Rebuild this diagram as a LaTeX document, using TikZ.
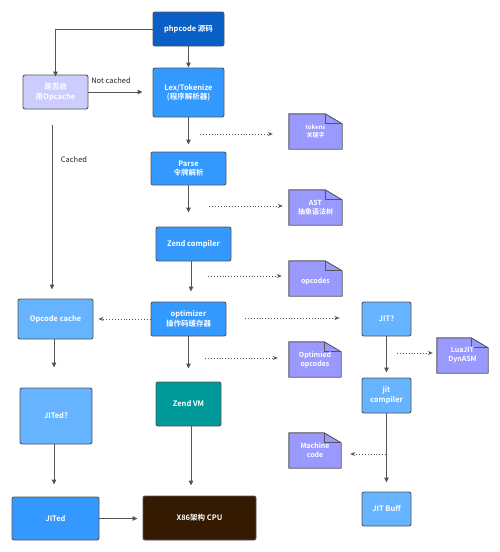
\documentclass[tikz,border=0pt]{standalone}
\usepackage{fontspec}
\setmainfont{Noto Sans CJK SC}[BoldFont={Noto Sans CJK SC Bold}]
\usetikzlibrary{arrows.meta}
\definecolor{edge}{HTML}{555555}
\definecolor{cdark}{HTML}{0A5FC6}
\definecolor{cmid}{HTML}{3399FF}
\definecolor{clight}{HTML}{66B3FF}
\definecolor{clav}{HTML}{CCCCFF}
\definecolor{cnote}{HTML}{9999FF}
\definecolor{cteal}{HTML}{009999}
\definecolor{cbrown}{HTML}{331A00}
\tikzset{
  box/.style={draw=edge, line width=0.9pt, rounded corners=2pt, text=white, align=center, font=\fontsize{7.5}{9.5}\selectfont\bfseries, inner sep=1pt},
  notebox/.style={align=center, text=white, font=\fontsize{7}{9}\selectfont\bfseries, inner sep=1pt},
  arr/.style={draw=edge, line width=0.9pt, -{Triangle[length=5pt,width=4.5pt]}},
  darr/.style={draw=edge, line width=0.9pt, dotted, -{Stealth[length=5pt,width=4pt]}},
  lbl/.style={font=\fontsize{7.5}{9}\selectfont, text=black!85, inner sep=0pt}
}
\newcommand{\drawnote}[1]{%
  \filldraw[fill=cnote, draw=edge, line width=0.9pt, line join=round]
    (#1.south west) -- (#1.north west) -- ([xshift=-17pt]#1.north east)
    -- ([yshift=-10pt]#1.north east) -- (#1.south east) -- cycle;
  \draw[draw=edge, line width=0.7pt, line join=round]
    ([xshift=-17pt]#1.north east) -- ([xshift=-17pt,yshift=-10pt]#1.north east) -- ([yshift=-10pt]#1.north east);
}
\begin{document}
\begin{tikzpicture}[x=1pt,y=-1pt]
\fill[white] (0,0) rectangle (500,552);
\useasboundingbox (0,0) rectangle (500,552);
% main boxes
\node[box, fill=cdark, minimum width=71pt, minimum height=34pt] (php) at (188.5,29) {phpcode 源码};
\node[box, fill=cmid, minimum width=71pt, minimum height=49pt] (lex) at (188.5,92.5) {Lex/Tokenize\\(程序解析器)};
\node[box, fill=clav, minimum width=65pt, minimum height=34pt] (opc) at (55.5,92) {是否启\\用Opcache};
\node[box, fill=cmid, minimum width=75pt, minimum height=33pt] (parse) at (188.5,168.5) {Parse\\令牌解析};
\node[box, fill=cmid, minimum width=75pt, minimum height=34pt] (zc) at (193.5,244) {Zend compiler};
\node[box, fill=cmid, minimum width=75pt, minimum height=34pt] (opt) at (188.5,319) {optimizer\\操作码缓存器};
\node[box, fill=clight, minimum width=75pt, minimum height=40pt] (ocache) at (55.5,319) {Opcode cache};
\node[box, fill=clight, minimum width=72pt, minimum height=56pt] (jitedq) at (56,416) {JITed?};
\node[box, fill=cmid, minimum width=87pt, minimum height=43pt] (jited) at (55.5,518.5) {JITed};
\node[box, fill=cbrown, minimum width=113pt, minimum height=44pt] (cpu) at (199.5,518) {X86架构 CPU};
\node[box, fill=cteal, minimum width=65pt, minimum height=44pt] (zvm) at (188.5,404) {Zend VM};
\node[box, fill=clight, minimum width=49pt, minimum height=34pt] (jitq) at (386.5,319) {JIT?};
\node[box, fill=clight, minimum width=49pt, minimum height=35pt] (jitc) at (386.5,395.5) {jit\\compiler};
\node[box, fill=clight, minimum width=49pt, minimum height=34pt] (jitbuff) at (386.5,509) {JIT Buff};
% notes
\node[notebox, minimum width=53pt, minimum height=35pt] (tokens) at (315.5,131.5) {};
\node[notebox, minimum width=53pt, minimum height=35pt] (ast) at (315.5,207.5) {};
\node[notebox, minimum width=53pt, minimum height=35pt] (opcodes) at (315.5,278.5) {};
\node[notebox, minimum width=52pt, minimum height=35pt] (optimied) at (315,359.5) {};
\node[notebox, minimum width=51pt, minimum height=35pt] (luajit) at (462.5,355.5) {};
\node[notebox, minimum width=52pt, minimum height=35pt] (machine) at (315,450.5) {};
\drawnote{tokens}\drawnote{ast}\drawnote{opcodes}\drawnote{optimied}\drawnote{luajit}\drawnote{machine}
\node[notebox, font=\fontsize{6}{8}\selectfont\bfseries] at (tokens) {tokens\\关键字};
\node[notebox] at (ast) {AST\\抽象语法树};
\node[notebox] at ([yshift=-3pt]opcodes.center) {opcodes};
\node[notebox] at (optimied) {Optimied\\opcodes};
\node[notebox] at (luajit) {LuaJIT\\DynASM};
\node[notebox] at (machine) {Machine\\code};
% labels
\node[lbl] (notcached) at (111,81) {Not cached};
\node[lbl] (cached) at (74,160) {Cached};
% solid connectors
\draw[arr] (php.west) -| ([yshift=-2pt]opc.north);
\draw[arr] (php.south) -- (lex.north);
\draw[arr, shorten >=10pt] (opc.east) -- (opc.east -| lex.west);
\draw[arr, shorten >=7pt] (lex.south) -- (parse.north);
\draw[arr, shorten >=14pt] (parse.south) -- (parse.south |- zc.north);
\draw[arr, shorten >=10pt] ([xshift=-2.5pt]zc.south) -- ([xshift=-2.5pt]zc.south |- opt.north);
\draw[arr, shorten >=13pt] (opt.south) -- (zvm.north);
\draw[arr, shorten >=10pt] ([xshift=2.5pt]zvm.south) -- ([xshift=2.5pt]zvm.south |- cpu.north);
\draw[arr, shorten <=16pt, shorten >=9pt] ([xshift=-3.5pt]opc.south) -- ([xshift=-3.5pt]opc.south |- ocache.north);
\draw[arr, shorten >=20pt] ([xshift=-1.5pt]ocache.south) -- ([xshift=-1.5pt]ocache.south |- jitedq.north);
\draw[arr, shorten >=12pt] ([xshift=-2pt]jitedq.south) -- ([xshift=-2pt]jitedq.south |- jited.north);
\draw[arr, shorten >=5pt] (jited.east) -- (jited.east -| cpu.west);
\draw[arr, shorten >=5pt] (jitq.south) -- (jitc.north);
\draw[arr, shorten >=9pt] (jitc.south) -- (jitbuff.north);
% dotted connectors
\coordinate (d1) at (200,134);
\coordinate (d2) at (209,206);
\coordinate (d3) at (208,276);
\coordinate (d5) at (245,318);
\coordinate (d6) at (205,358);
\coordinate (d7) at (397,353);
\coordinate (d8) at (386,454);
\draw[darr, shorten >=16pt] (d1) -- (d1 -| tokens.west);
\draw[darr, shorten >=6pt] (d2) -- (d2 -| ast.west);
\draw[darr, shorten >=7pt] (d3) -- (d3 -| opcodes.west);
\draw[darr, shorten >=5pt] (opt.west) -- (opt.west -| ocache.east);
\draw[darr, shorten >=22pt] (d5) -- (d5 -| jitq.west);
\draw[darr, shorten >=11pt] (d6) -- (d6 -| optimied.west);
\draw[darr, shorten >=4pt] (d7) -- (d7 -| luajit.west);
\draw[darr, shorten >=9pt] (d8) -- (d8 -| machine.east);
\end{tikzpicture}
\end{document}
